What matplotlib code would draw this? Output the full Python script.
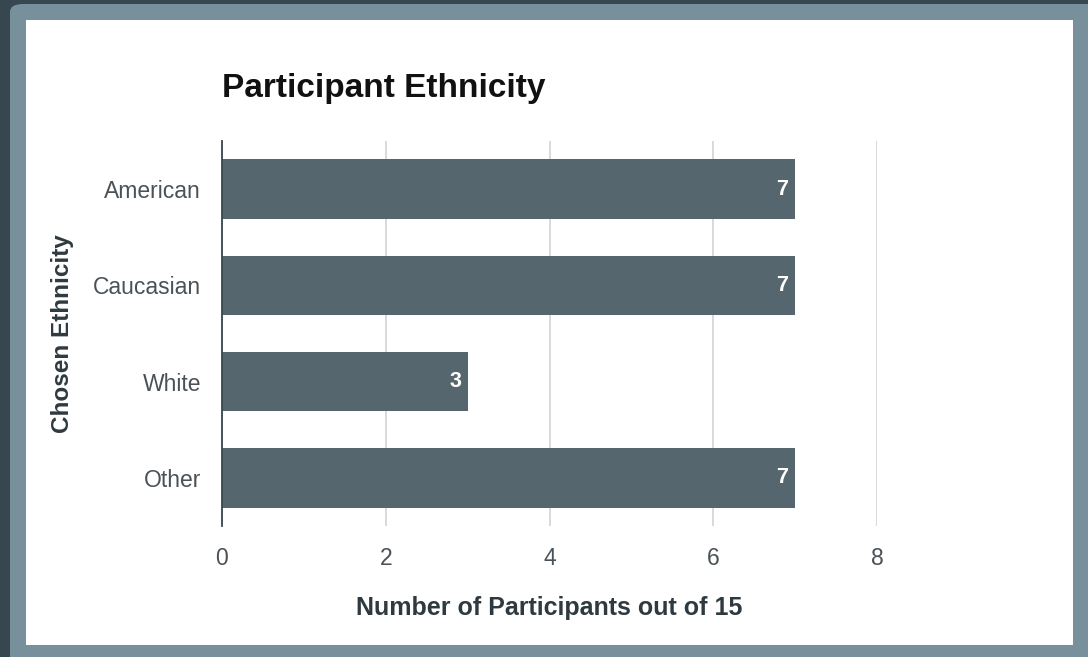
import matplotlib.pyplot as plt
from matplotlib.patches import FancyBboxPatch, Rectangle
import numpy as np

plt.rcParams['font.family'] = ['Liberation Sans', 'DejaVu Sans']

# data
categories = ['American', 'Caucasian', 'White', 'Other']
counts = [7, 7, 3, 7]
x_ticks = [0, 2, 4, 6, 8]

W, H = 1088, 657
bar_color = '#56666f'
text_color = '#4a5258'

fig = plt.figure(figsize=(W / 100, H / 100), dpi=100)
fig.patch.set_facecolor('#37474f')


def px(x, y, w, h):
    # pixel box (top-left origin) -> figure fraction
    return x / W, 1 - (y + h) / H, w / W, h / H


# slate frame and white card
fx, fy, fw, fh = px(10, 4, 1100, 680)
fig.patches.append(FancyBboxPatch((fx, fy), fw, fh, boxstyle='round,pad=0,rounding_size=0.012',
                                  transform=fig.transFigure, facecolor='#78909c',
                                  edgecolor='none', zorder=-2))
cx, cy, cw, ch = px(26, 20, 1047, 625)
fig.patches.append(Rectangle((cx, cy), cw, ch, transform=fig.transFigure,
                             facecolor='white', edgecolor='none', zorder=-1))

ax = fig.add_axes([222 / W, 1 - 526 / H, (877 - 222) / W, (526 - 141) / H])
ax.set_facecolor('none')
ax.set_zorder(2)

y = np.arange(len(categories))
ax.barh(y, counts, height=0.62, color=bar_color, zorder=3)
for yi, v in zip(y, counts):
    ax.text(v - 0.08, yi, str(v), ha='right', va='center', color='white',
            fontsize=15.5, fontweight='bold', zorder=4)

ax.set_ylim(len(categories) - 0.5, -0.5)
ax.set_xlim(0, 8)
ax.set_yticks(y)
ax.set_yticklabels(categories)
ax.set_xticks(x_ticks)
ax.tick_params(axis='both', length=0, labelsize=16.5, labelcolor=text_color)
ax.tick_params(axis='x', pad=15)
ax.tick_params(axis='y', pad=15)

ax.grid(axis='x', color='#d3d3d3', linewidth=1.2, zorder=0)
for s in ['top', 'right', 'bottom']:
    ax.spines[s].set_visible(False)
ax.spines['left'].set_color('#37474f')
ax.spines['left'].set_linewidth(1.3)
ax.spines['left'].set_zorder(5)

ax.set_xlabel('Number of Participants out of 15', fontsize=18, fontweight='bold',
              color='#2f3a40', labelpad=19)
ax.set_ylabel('Chosen Ethnicity', fontsize=17.5, fontweight='bold', color='#2f3a40',
              labelpad=14)

fig.text(222 / W, 1 - 89 / H, 'Participant Ethnicity', fontsize=24, fontweight='bold',
         color='#111111', ha='left', va='center')

fig.savefig('out.png', dpi=100, facecolor=fig.get_facecolor())
